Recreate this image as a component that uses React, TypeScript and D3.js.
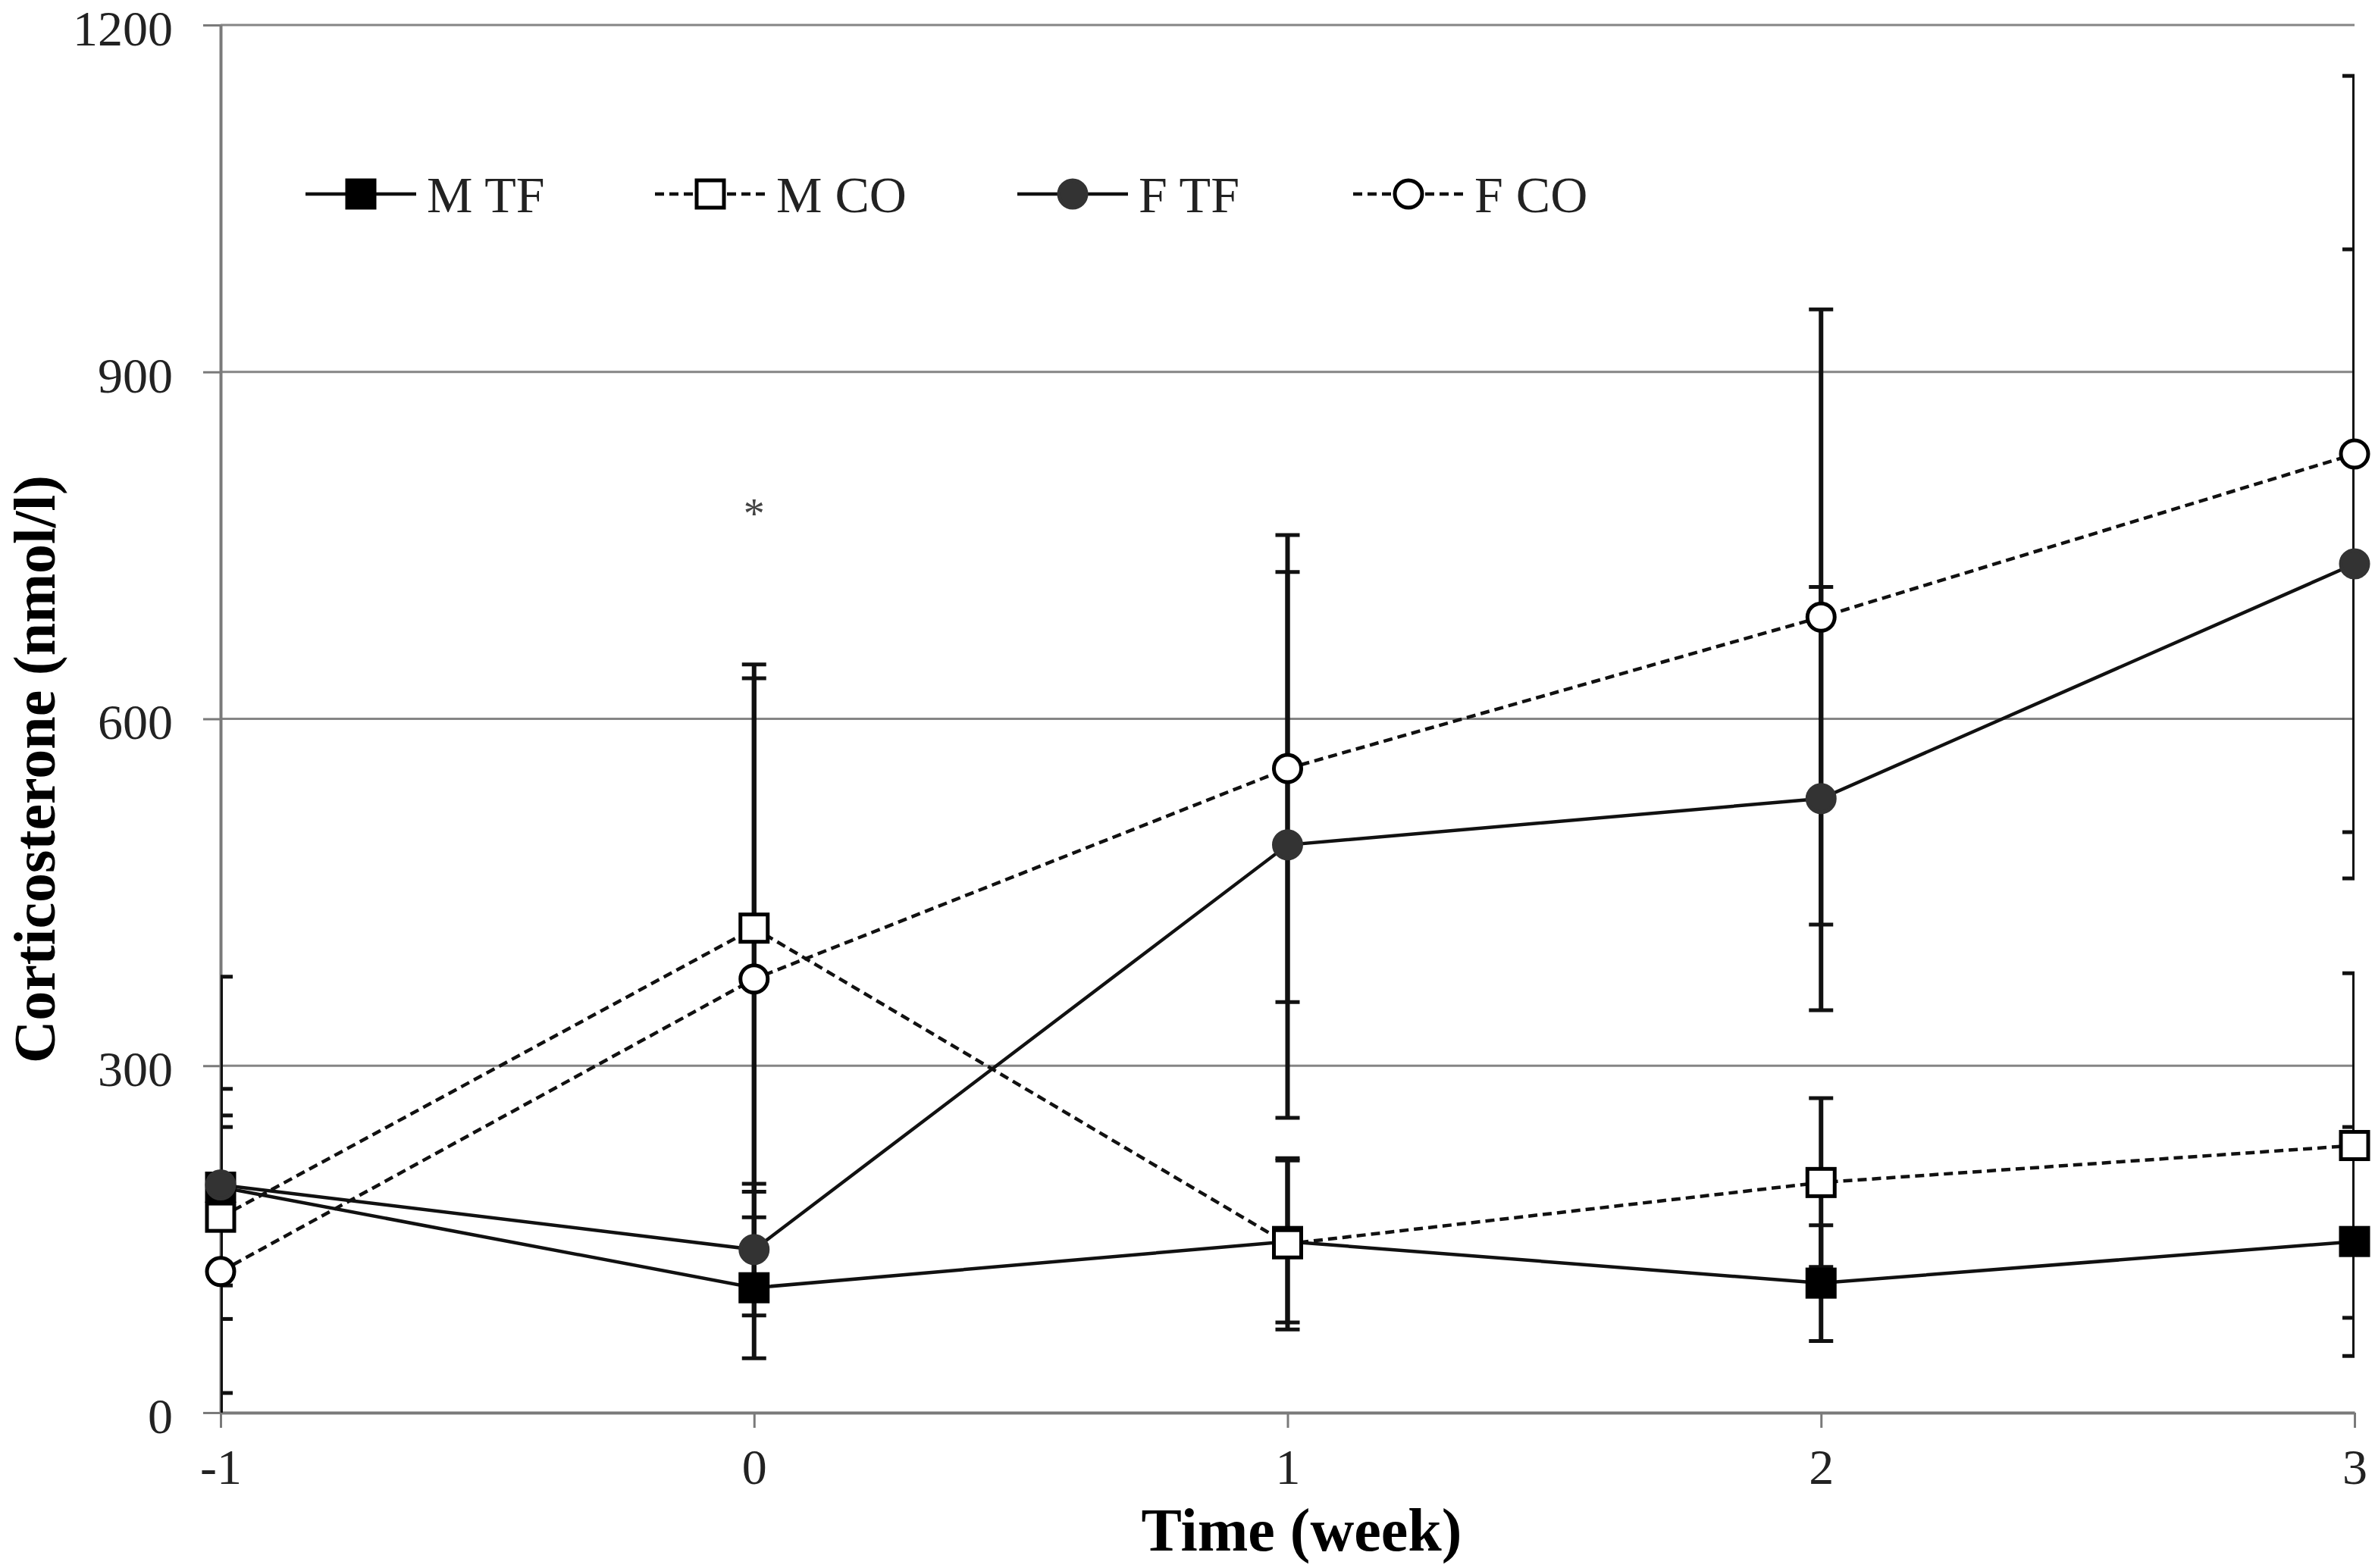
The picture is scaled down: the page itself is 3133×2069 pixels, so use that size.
import React, { useEffect, useRef } from "react";
import * as d3 from "d3";

const weeks = [-1, 0, 1, 2, 3];

const mTF = [195, 108, 148, 112, 148];
const mTFsd = [85, 61, 70, 50, 99];
const mCO = [169, 419, 146, 199, 231];
const mCOsd = [88, 228, 74, 73, 149];
const fTF = [197, 141, 491, 531, 734];
const fTFsd = [180, 57, 236, 183, 272];
const fCO = [122, 375, 557, 688, 829];
const fCOsd = [125, 260, 202, 266, 327];

const yTicks = [0, 300, 600, 900, 1200];
const seriesNames = ["M TF", "M CO", "F TF", "F CO"];

const W = 3133;
const H = 2069;

type Series = {
  name: string;
  values: number[];
  sd: number[];
  shape: "square" | "circle";
  fill: string;
  dashed: boolean;
};

const App: React.FC = () => {
  const svgRef = useRef<SVGSVGElement | null>(null);

  useEffect(() => {
    const series: Series[] = [
      { name: seriesNames[0], values: mTF, sd: mTFsd, shape: "square", fill: "#000", dashed: false },
      { name: seriesNames[1], values: mCO, sd: mCOsd, shape: "square", fill: "#fff", dashed: true },
      { name: seriesNames[2], values: fTF, sd: fTFsd, shape: "circle", fill: "#333", dashed: false },
      { name: seriesNames[3], values: fCO, sd: fCOsd, shape: "circle", fill: "#fff", dashed: true },
    ];

    const x = d3.scaleLinear().domain([-1, 3]).range([291, 3106]);
    const y = d3.scaleLinear().domain([0, 1200]).range([1864, 33]);

    const svg = d3.select(svgRef.current);
    svg.selectAll("*").remove();
    svg.append("rect").attr("width", W).attr("height", H).attr("fill", "#fff");

    // error bars are clipped to the plot area, like Excel does
    svg
      .append("clipPath")
      .attr("id", "plotclip")
      .append("rect")
      .attr("x", x(-1))
      .attr("y", 0)
      .attr("width", x(3) - x(-1))
      .attr("height", y(0));

    // gridlines
    svg
      .append("g")
      .selectAll("line")
      .data(yTicks.filter((d) => d > 0))
      .enter()
      .append("line")
      .attr("x1", x(-1))
      .attr("x2", x(3))
      .attr("y1", (d) => y(d))
      .attr("y2", (d) => y(d))
      .attr("stroke", "#858585")
      .attr("stroke-width", 3);

    const yAxis = d3
      .axisLeft(y)
      .tickValues(yTicks)
      .tickSize(23)
      .tickSizeOuter(0)
      .tickPadding(40)
      .tickFormat((d) => String(d));

    const xAxis = d3
      .axisBottom(x)
      .tickValues(weeks)
      .tickSize(20)
      .tickSizeOuter(0)
      .tickPadding(27)
      .tickFormat((d) => String(d));

    const gy = svg.append("g").attr("transform", `translate(${x(-1)},0)`).call(yAxis);
    const gx = svg.append("g").attr("transform", `translate(0,${y(0)})`).call(xAxis);

    [gx, gy].forEach((g) => {
      g.select(".domain").attr("stroke", "#7a7a7a").attr("stroke-width", 4);
      g.selectAll(".tick line").attr("stroke", "#7a7a7a").attr("stroke-width", 3);
      g.selectAll(".tick text")
        .attr("fill", "#222")
        .style("font-family", "'Liberation Serif', 'Times New Roman', serif")
        .style("font-size", "66px");
    });
    gy.selectAll(".tick text").attr("dy", "0.40em");

    // error bars
    const eb = svg.append("g").attr("clip-path", "url(#plotclip)");
    series.forEach((s) => {
      s.values.forEach((v, i) => {
        const cx = x(weeks[i]);
        eb.append("line")
          .attr("x1", cx)
          .attr("x2", cx)
          .attr("y1", y(v + s.sd[i]))
          .attr("y2", y(Math.max(0, v - s.sd[i])))
          .attr("stroke", "#111")
          .attr("stroke-width", 6);
        [v + s.sd[i], v - s.sd[i]].forEach((e) => {
          if (e < 0) return;
          eb.append("line")
            .attr("x1", cx - 16)
            .attr("x2", cx + 16)
            .attr("y1", y(e))
            .attr("y2", y(e))
            .attr("stroke", "#111")
            .attr("stroke-width", 5);
        });
      });
    });

    const line = d3
      .line<number>()
      .x((_, i) => x(weeks[i]))
      .y((d) => y(d));

    series.forEach((s) => {
      svg
        .append("path")
        .datum(s.values)
        .attr("d", line)
        .attr("fill", "none")
        .attr("stroke", "#111")
        .attr("stroke-width", 4.5)
        .attr("stroke-dasharray", s.dashed ? "12,7" : null);
    });

    const drawMarker = (g: any, s: Series, cx: number, cy: number) => {
      if (s.shape === "square") {
        g.append("rect")
          .attr("x", cx - 18)
          .attr("y", cy - 18)
          .attr("width", 36)
          .attr("height", 36)
          .attr("fill", s.fill)
          .attr("stroke", "#000")
          .attr("stroke-width", 5);
      } else {
        g.append("circle")
          .attr("cx", cx)
          .attr("cy", cy)
          .attr("r", 18)
          .attr("fill", s.fill)
          .attr("stroke", s.fill === "#fff" ? "#000" : s.fill)
          .attr("stroke-width", 5);
      }
    };

    series.forEach((s) => {
      const g = svg.append("g");
      s.values.forEach((v, i) => drawMarker(g, s, x(weeks[i]), y(v)));
    });

    // significance mark
    svg
      .append("text")
      .attr("x", x(0))
      .attr("y", y(785))
      .attr("dy", "0.55em")
      .attr("text-anchor", "middle")
      .attr("fill", "#444")
      .style("font-family", "'Liberation Serif', serif")
      .style("font-size", "56px")
      .text("*");

    // legend
    const legendX = [403, 864, 1342, 1785];
    const legendY = 256;
    series.forEach((s, i) => {
      const g = svg.append("g").attr("transform", `translate(${legendX[i]},${legendY})`);
      g.append("line")
        .attr("x1", 0)
        .attr("x2", 146)
        .attr("stroke", "#111")
        .attr("stroke-width", 4.5)
        .attr("stroke-dasharray", s.dashed ? "12,7" : null);
      drawMarker(g, s, 73, 0);
      g.append("text")
        .attr("x", 160)
        .attr("dy", "0.35em")
        .attr("fill", "#222")
        .style("font-family", "'Liberation Serif', serif")
        .style("font-size", "68px")
        .text(s.name);
    });

    // axis titles
    svg
      .append("text")
      .attr("transform", `translate(72,1015) rotate(-90)`)
      .attr("text-anchor", "middle")
      .attr("fill", "#000")
      .style("font-family", "'Liberation Serif', serif")
      .style("font-weight", "bold")
      .style("font-size", "78px")
      .text("Corticosterone (nmol/l)");

    svg
      .append("text")
      .attr("x", 1717)
      .attr("y", 2046)
      .attr("text-anchor", "middle")
      .attr("fill", "#000")
      .style("font-family", "'Liberation Serif', serif")
      .style("font-weight", "bold")
      .style("font-size", "80px")
      .text("Time (week)");
  }, []);

  return (
    <svg
      ref={svgRef}
      width={W}
      height={H}
      style={{ position: "absolute", left: 0, top: 0, display: "block" }}
    ></svg>
  );
};

export default App;
